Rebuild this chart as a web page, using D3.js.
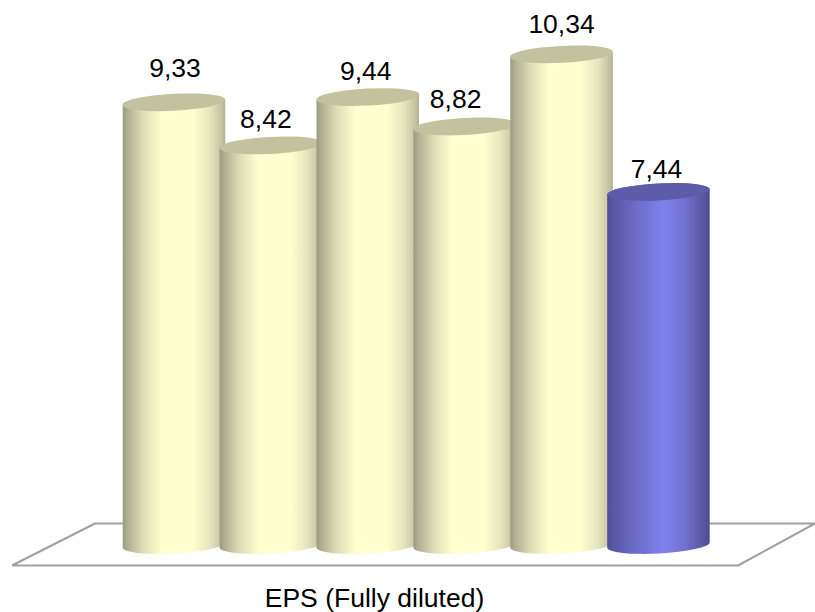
<!DOCTYPE html>
<html>
<head>
<meta charset="utf-8">
<script src="https://cdn.jsdelivr.net/npm/d3@7/dist/d3.min.js"></script>
<style>
  html, body { margin: 0; padding: 0; background: #fff; }
  svg { display: block; }
  text { font-family: "Liberation Sans", Arial, sans-serif; fill: #000; }
</style>
</head>
<body>
<svg id="chart" width="815" height="612"></svg>
<script>
// Chart values
const categories = ["EPS (Fully diluted)"];
const periods = ["P1", "P2", "P3", "P4", "P5", "P6"];
const values = [9.33, 8.42, 9.44, 8.82, 10.34, 7.44];
const valueLabels = ["9,33", "8,42", "9,44", "8,82", "10,34", "7,44"];
const highlighted = ["P6"];

// Layout
const width = 815, height = 612;
const baseY = 545, unitPx = 47.45;
const cylW = 102.5, ry = 8.5, tiltDeg = -3;
const tiltRise = Math.tan(tiltDeg * Math.PI / 180) * cylW / 2;
const labelGapX = [1, -5, -2, -9, 0, -2];
const labelGapY = [35, 27, 27, 28, 31, 24];

const svg = d3.select("#chart");
const defs = svg.append("defs");

const x = d3.scaleBand().domain(periods).range([122.7, 122.7 + 96.9 * periods.length]);
const y = d3.scaleLinear().domain([0, 1]).range([baseY, baseY - unitPx]);

// Shaded body of each cylinder: light falls just left of centre
function bodyGradient(id, stops) {
  const g = defs.append("linearGradient").attr("id", id)
    .attr("x1", 0).attr("x2", 1).attr("y1", 0).attr("y2", 0);
  stops.forEach(([o, c]) => g.append("stop").attr("offset", o).attr("stop-color", c));
}
bodyGradient("bodyCream", [
  [0, "#9b9b80"], [0.05, "#b0b092"], [0.2, "#dedeb6"], [0.38, "#ffffcf"],
  [0.68, "#ffffcf"], [0.85, "#e6e6be"], [0.97, "#c2c2a0"], [1, "#b0b092"]
]);
bodyGradient("bodyBlue", [
  [0, "#4e4e96"], [0.06, "#5858a6"], [0.28, "#6c6cc8"], [0.55, "#8080ee"],
  [0.75, "#7272d0"], [0.92, "#5a5aa8"], [1, "#4c4c90"]
]);

// Floor plane under the cylinders
const floor = [[12, 565.5], [95, 523.5], [815, 523.5], [738, 565.5], [12, 565.5]];
svg.append("path")
  .attr("d", d3.line()(floor))
  .attr("fill", "none")
  .attr("stroke", "#a0a0a0")
  .attr("stroke-width", 2)
  .attr("stroke-linejoin", "round");

// Tilted cylinders, painted left to right so each overlaps the previous one
const bars = svg.selectAll("g.bar")
  .data(periods.map((p, i) => ({ p, v: values[i], label: valueLabels[i], i })))
  .join("g").attr("class", "bar");

bars.append("path")
  .attr("d", d => {
    const l = x(d.p), r = l + cylW, top = y(d.v), bot = y(0);
    return `M${l},${top - tiltRise}
            A${cylW / 2},${ry} ${tiltDeg} 0 1 ${r},${top + tiltRise}
            L${r},${bot + tiltRise}
            A${cylW / 2},${ry} ${tiltDeg} 0 1 ${l},${bot - tiltRise}Z`;
  })
  .attr("fill", d => highlighted.includes(d.p) ? "url(#bodyBlue)" : "url(#bodyCream)");

bars.append("ellipse")
  .attr("cx", d => x(d.p) + cylW / 2)
  .attr("cy", d => y(d.v))
  .attr("rx", cylW / 2)
  .attr("ry", ry)
  .attr("transform", d => `rotate(${tiltDeg} ${x(d.p) + cylW / 2} ${y(d.v)})`)
  .attr("fill", d => highlighted.includes(d.p) ? "#5c5ca8" : "#c2c29e");

bars.append("text")
  .attr("x", d => x(d.p) + cylW / 2 + labelGapX[d.i])
  .attr("y", d => y(d.v) - labelGapY[d.i])
  .attr("dy", "0.36em")
  .attr("text-anchor", "middle")
  .attr("font-size", 26.5)
  .text(d => d.label);

svg.append("text")
  .attr("x", 374.5)
  .attr("y", 597)
  .attr("dy", "0.36em")
  .attr("text-anchor", "middle")
  .attr("font-size", 26.5)
  .text(categories[0]);
</script>
</body>
</html>
